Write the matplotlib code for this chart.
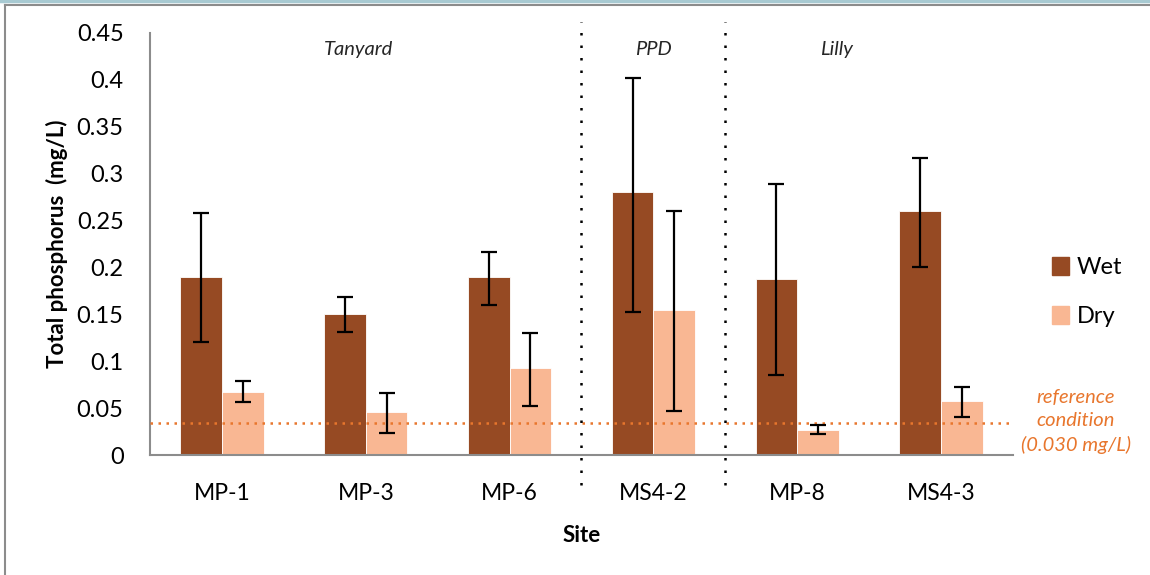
import numpy as np
import matplotlib
from matplotlib import pyplot as plt
from matplotlib.lines import Line2D

matplotlib.rcParams['font.family'] = ['Lato', 'DejaVu Sans']

sites = ['MP-1', 'MP-3', 'MP-6', 'MS4-2', 'MP-8', 'MS4-3']
wet = [0.190, 0.150, 0.190, 0.280, 0.188, 0.260]
wet_hi = [0.258, 0.168, 0.217, 0.402, 0.289, 0.317]
wet_lo = [0.120, 0.131, 0.160, 0.153, 0.085, 0.200]
dry = [0.067, 0.046, 0.093, 0.155, 0.027, 0.058]
dry_hi = [0.079, 0.066, 0.130, 0.260, 0.032, 0.072]
dry_lo = [0.056, 0.023, 0.052, 0.047, 0.022, 0.041]
reference = 0.034
groups = ['Tanyard', 'PPD', 'Lilly']
group_x = [0.95, 3.0, 4.27]
dividers = [2.5, 3.5]

wet_color = '#964A23'
dry_color = '#F9B793'
ref_color = '#E8762D'

fig = plt.figure(figsize=(11.5, 5.75), dpi=100)
ax = fig.add_axes([150/1150, 1 - 455/575, 863/1150, 422/575])

x = np.arange(len(sites))
w = 0.29
wet = np.array(wet); dry = np.array(dry)
ax.bar(x - w/2, wet, w, color=wet_color, edgecolor='white', linewidth=0.6, zorder=2)
ax.bar(x + w/2, dry, w, color=dry_color, edgecolor='white', linewidth=0.6, zorder=2)
err_kw = dict(fmt='none', ecolor='black', elinewidth=1.6, capsize=6, capthick=1.6, zorder=4)
ax.errorbar(x - w/2, wet, yerr=[wet - np.array(wet_lo), np.array(wet_hi) - wet], **err_kw)
ax.errorbar(x + w/2, dry, yerr=[dry - np.array(dry_lo), np.array(dry_hi) - dry], **err_kw)

ax.axhline(reference, color=ref_color, linestyle=(0, (1, 2.2)), linewidth=1.8, zorder=3)

for d in dividers:
    ax.plot([d, d], [-0.032, 0.462], color='black', linestyle=(0, (1, 4)),
            linewidth=1.8, clip_on=False, zorder=3)

for g, gx in zip(groups, group_x):
    ax.text(gx, 0.432, g, ha='center', va='center', style='italic',
            fontsize=14.5, color='#262626')

ax.set_xlim(-0.5, 5.5)
ax.set_ylim(0, 0.45)
ax.set_yticks(np.arange(0, 0.451, 0.05))
ax.set_yticklabels(['0', '0.05', '0.1', '0.15', '0.2', '0.25', '0.3', '0.35', '0.4', '0.45'])
ax.set_xticks(x)
ax.set_xticklabels(sites)
ax.tick_params(axis='both', length=0, colors='black')
ax.tick_params(axis='x', pad=20, labelsize=16.5)
ax.tick_params(axis='y', pad=19, labelsize=17)

for s in ['top', 'right']:
    ax.spines[s].set_visible(False)
ax.spines['left'].set_color('#8c8c8c')
ax.spines['bottom'].set_color('#8c8c8c')
ax.spines['left'].set_linewidth(1.5)
ax.spines['bottom'].set_linewidth(1.5)

ax.set_ylabel('Total phosphorus  (mg/L)', fontsize=16, fontweight='bold', labelpad=6)
ax.set_xlabel('Site', fontsize=16, fontweight='bold', labelpad=15)

ax.text(1.073, 0.08, 'reference\ncondition\n(0.030 mg/L)', transform=ax.transAxes,
        ha='center', va='center', style='italic', fontsize=14.5, color=ref_color,
        linespacing=1.45)

handles = [plt.Rectangle((0, 0), 1, 1, color=wet_color),
           plt.Rectangle((0, 0), 1, 1, color=dry_color)]
fig.legend(handles, ['Wet', 'Dry'], loc='center left', bbox_to_anchor=(1052/1150, 1 - 292/575),
           frameon=False, fontsize=17, handlelength=0.7, handleheight=0.8,
           labelspacing=1.2, handletextpad=0.35, borderpad=0, borderaxespad=0)

# outer frame like the pasted chart
fig.add_artist(Line2D([0, 1], [1 - 1/575, 1 - 1/575], color='#a8cad2', linewidth=2.5))
fig.add_artist(Line2D([5/1150, 1], [1 - 4.5/575, 1 - 4.5/575], color='#8c8c8c', linewidth=1.5))
fig.add_artist(Line2D([5/1150, 5/1150], [0, 1 - 4.5/575], color='#8c8c8c', linewidth=1.5))

fig.savefig('out.png', dpi=100)
